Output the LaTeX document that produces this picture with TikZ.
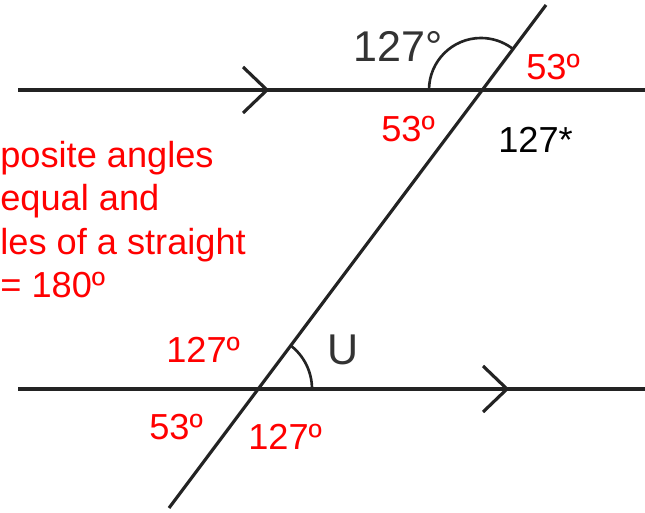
\documentclass[tikz,border=0pt]{standalone}
\usepackage{fontspec}
\setmainfont{Liberation Sans}
\usepackage{xcolor}
\usepackage{tikz}
\usetikzlibrary{arrows.meta, positioning}
\definecolor{angred}{RGB}{255,0,0}
\definecolor{linegray}{RGB}{35,35,35}
\definecolor{markgray}{RGB}{51,51,51}

\begin{document}
\begin{tikzpicture}[
					% Picture Styling
					x=0.02cm, y=0.02cm,
					line/.style={line width=1.8pt, draw=linegray},
					chevron/.style={line width=1.8pt, draw=linegray},
					anglemark/.style={line width=1.5pt, draw=linegray},
					redlabel/.style={anchor=base west, inner sep=0pt, text=angred, font=\fontsize{20.6}{24.8}\selectfont},
					blacklabel/.style={anchor=base west, inner sep=0pt, text=black, font=\fontsize{20.6}{24.8}\selectfont},
					givenlabel/.style={anchor=base west, inner sep=0pt, text=markgray, font=\fontsize{24.5}{28}\selectfont},
					note/.style={anchor=base west, inner sep=0pt, align=left, text=angred, font=\fontsize{20.6}{24.8}\selectfont}
				]
				\useasboundingbox (0,0) rectangle (645,513);
				% Puntos de las rectas
				\coordinate (topleft) at (18,423);
				\coordinate (topright) at (645,423);
				\coordinate (botleft) at (18,124);
				\coordinate (botright) at (645,124);
				\coordinate (P) at (481,423);
				\coordinate (Q) at (257,124);
				\coordinate (transtop) at (546,508);
				\coordinate (transbot) at (169,5);
				% Rectas paralelas y transversal
				\draw[line] (topleft) -- (topright);
				\draw[line] (botleft) -- (botright);
				\draw[line] (transbot) -- (transtop);
				% Marcas de paralelas
				\coordinate (toptip) at (267,423);
				\coordinate (bottip) at (507,124);
				\draw[chevron] ([shift={(-24,23)}]toptip) -- (toptip) -- ([shift={(-24,-23)}]toptip);
				\draw[chevron] ([shift={(-24,23)}]bottip) -- (bottip) -- ([shift={(-24,-23)}]bottip);
				% Arcos de los angulos
				\draw[anglemark] ([shift={(180:52)}]P) arc[start angle=180, end angle=53.2, radius=52];
				\draw[anglemark] ([shift={(0:55)}]Q) arc[start angle=0, end angle=53.2, radius=55];
				% Etiquetas
				\node[givenlabel] (given) at (353,451) {127°};
				\node[givenlabel] (unknown) at (327,148) {U};
				\node[redlabel] (topright53) at (526,433) {53º};
				\node[redlabel] (topleft53) at (381,371) {53º};
				\node[blacklabel] (topstar) at (498,360) {127*};
				\node[redlabel] (botup127) at (166,150) {127º};
				\node[redlabel] (botleft53) at (149,73) {53º};
				\node[redlabel] (botdown127) at (248,63) {127º};
				% Texto explicativo
				\node[note] (reason) at (0,215) {posite angles\\equal and\\les of a straight\\= 180º};
			\end{tikzpicture}
\end{document}
